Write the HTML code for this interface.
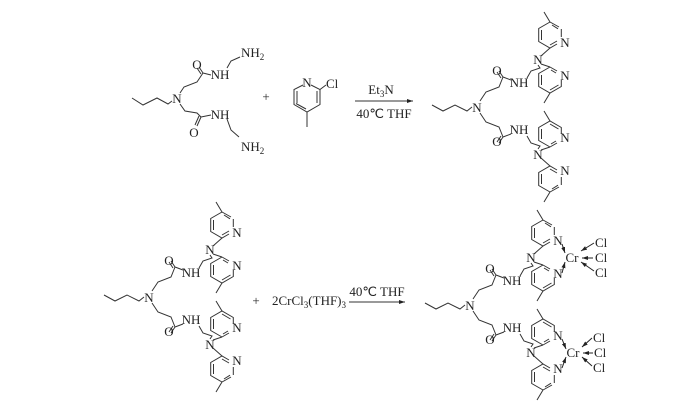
<!DOCTYPE html>
<html><head><meta charset="utf-8"><style>
html,body{margin:0;padding:0;background:#fff;}
svg{display:block;}
text{font-family:"Liberation Serif",serif;font-size:13px;fill:#222;}
</style></head><body>
<svg width="700" height="415" viewBox="0 0 700 415" xmlns="http://www.w3.org/2000/svg">
<defs>
<marker id="ah" markerWidth="6" markerHeight="4" refX="6" refY="2" orient="auto" markerUnits="userSpaceOnUse"><path d="M0,0 L6,2 L0,4 z" fill="#222"/></marker>
<g id="half" fill="none" stroke="#333" stroke-width="1">
  <path d="M480,101 L486,92 L499,87 L503,77"/>
  <path d="M503,77 L499,71 M501,78 L497,72"/>
  <path d="M503,77 L511,80"/>
  <path d="M527,78 L531,71 L540,68 L538,65"/>
  <path d="M550,22 L559,27 M550,22 L538.7,28.5 L538.7,41.5 L550,48 L557,44 M561.3,29 L561.3,37"/>
  <path d="M541.5,30 L541.5,40 M550,45 L557,41 M552,25 L558,28.8"/>
  <path d="M550,22 L544,12"/>
  <path d="M550,48 L541,56"/>
  <path d="M550,67 L557,71 M550,67 L538.7,73.5 L538.7,86.5 L550,93 L561.3,86.5 L561.3,80"/>
  <path d="M541.5,75 L541.5,85 M550,90 L558.5,85 M551,70 L556,73"/>
  <path d="M550,93 L544,103"/>
  <path d="M541,64 L550,67"/>
</g>
<g id="lig">
  <path d="M432,105 L443,111 L455,105 L467,111 L472,107" fill="none" stroke="#333" stroke-width="1"/>
  <use href="#half"/>
  <use href="#half" transform="matrix(1,0,0,-1,0,214)"/>
</g>
</defs>

<g fill="none" stroke="#333" stroke-width="1">
  <path d="M132,98 L143,105 L157,98 L168,104 L172,101"/>
  <path d="M180,93 L184,87 L197,82 L203,73"/>
  <path d="M203,73 L199,67 M201,74 L197,68"/>
  <path d="M203,73 L211,75"/>
  <path d="M227,68 L231,61 L240,57"/>
  <path d="M180,104 L185,111 L197,113 L201,117"/>
  <path d="M201,117 L197,126 M199,116 L195,125"/>
  <path d="M201,117 L211,115"/>
  <path d="M227,119 L231,130 L239,137"/>
  <path d="M311,85 L320,89.5 L320,104.5 L307,112 L294,104.5 L294,89.5 L303,85"/>
  <path d="M317,91 L317,103 M306,109 L296,103.5 M297,91 L297,103"/>
  <path d="M320,89.5 L326,85"/>
  <path d="M307,112 L307,127"/>
  <path d="M355,101 L413,101" marker-end="url(#ah)"/>
</g>
<text x="177" y="103" text-anchor="middle">N</text>
<text x="197" y="69" text-anchor="middle">O</text>
<text x="220" y="79" text-anchor="middle">NH</text>
<text x="241" y="57">NH<tspan font-size="9" dy="3">2</tspan></text>
<text x="194" y="137" text-anchor="middle">O</text>
<text x="220" y="119" text-anchor="middle">NH</text>
<text x="241" y="151">NH<tspan font-size="9" dy="3">2</tspan></text>
<text x="266" y="101" text-anchor="middle">+</text>
<text x="307" y="87" text-anchor="middle">N</text>
<text x="326" y="88">Cl</text>
<text x="381" y="94" text-anchor="middle">Et<tspan font-size="9" dy="3">3</tspan><tspan dy="-3">N</tspan></text>
<text x="384" y="118" text-anchor="middle">40℃ THF</text>

<use href="#lig"/>
<text x="477" y="112" text-anchor="middle">N</text>
<text x="497" y="75" text-anchor="middle">O</text>
<text x="519" y="87" text-anchor="middle">NH</text>
<text x="538" y="64" text-anchor="middle">N</text>
<text x="565" y="47" text-anchor="middle">N</text>
<text x="565" y="80" text-anchor="middle">N</text>
<text x="497" y="146" text-anchor="middle">O</text>
<text x="519" y="134" text-anchor="middle">NH</text>
<text x="538" y="159" text-anchor="middle">N</text>
<text x="565" y="142" text-anchor="middle">N</text>
<text x="565" y="175" text-anchor="middle">N</text>

<g transform="translate(-328,190)">
<use href="#lig"/>
<text x="477" y="112" text-anchor="middle">N</text>
<text x="497" y="75" text-anchor="middle">O</text>
<text x="519" y="87" text-anchor="middle">NH</text>
<text x="538" y="64" text-anchor="middle">N</text>
<text x="565" y="47" text-anchor="middle">N</text>
<text x="565" y="80" text-anchor="middle">N</text>
<text x="497" y="146" text-anchor="middle">O</text>
<text x="519" y="134" text-anchor="middle">NH</text>
<text x="538" y="159" text-anchor="middle">N</text>
<text x="565" y="142" text-anchor="middle">N</text>
<text x="565" y="175" text-anchor="middle">N</text>
</g>
<text x="256" y="305" text-anchor="middle">+</text>
<text x="272" y="305">2CrCl<tspan font-size="9" dy="3">3</tspan><tspan dy="-3">(THF)</tspan><tspan font-size="9" dy="3">3</tspan></text>
<text x="377" y="296" text-anchor="middle">40℃ THF</text>
<path d="M349,302 L405,302" stroke="#333" stroke-width="1" marker-end="url(#ah)"/>

<g transform="translate(-7,198)">
<use href="#lig"/>
<text x="477" y="112" text-anchor="middle">N</text>
<text x="497" y="75" text-anchor="middle">O</text>
<text x="519" y="87" text-anchor="middle">NH</text>
<text x="538" y="64" text-anchor="middle">N</text>
<text x="565" y="47" text-anchor="middle">N</text>
<text x="565" y="80" text-anchor="middle">N</text>
<text x="497" y="146" text-anchor="middle">O</text>
<text x="519" y="134" text-anchor="middle">NH</text>
<text x="538" y="159" text-anchor="middle">N</text>
<text x="565" y="142" text-anchor="middle">N</text>
<text x="565" y="175" text-anchor="middle">N</text>
<text x="579" y="64" text-anchor="middle">Cr</text>
<text x="602" y="49">Cl</text>
<text x="602" y="64">Cl</text>
<text x="602" y="79">Cl</text>
<text x="580" y="159" text-anchor="middle">Cr</text>
<text x="600" y="144">Cl</text>
<text x="601" y="159">Cl</text>
<text x="600" y="174">Cl</text>
<g stroke="#222" stroke-width="1" fill="none">
  <path d="M569,46 L572,55" marker-end="url(#ah)"/>
  <path d="M569,75 L572,64" marker-end="url(#ah)"/>
  <path d="M601,45 L588,53" marker-end="url(#ah)"/>
  <path d="M600,60 L589,60" marker-end="url(#ah)"/>
  <path d="M601,73 L588,64" marker-end="url(#ah)"/>
  <path d="M569,141 L573,151" marker-end="url(#ah)"/>
  <path d="M569,170 L573,159" marker-end="url(#ah)"/>
  <path d="M599,140 L589,149" marker-end="url(#ah)"/>
  <path d="M600,155 L590,155" marker-end="url(#ah)"/>
  <path d="M599,168 L589,159" marker-end="url(#ah)"/>
</g>
</g>
</svg>
</body></html>
